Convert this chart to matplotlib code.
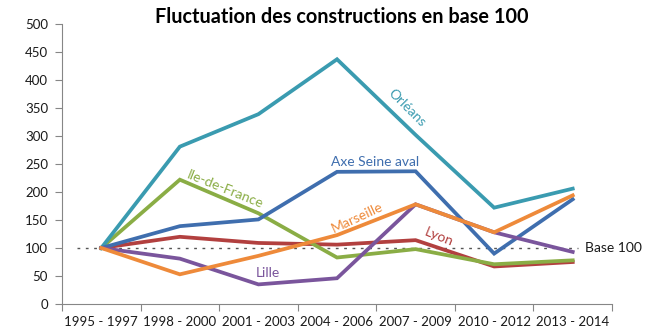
import matplotlib.pyplot as plt
import numpy as np

plt.rcParams["font.family"] = ["Lato", "DejaVu Sans"]

periods = ["1995 - 1997", "1998 - 2000", "2001 - 2003", "2004 - 2006",
           "2007 - 2009", "2010 - 2012", "2013 - 2014"]

ile_de_france = [100, 222, 162, 83, 98, 71, 78]
lyon = [100, 120, 109, 106, 114, 67, 75]
orleans = [100, 281, 339, 437, 302, 172, 206]
axe_seine_aval = [100, 139, 151, 236, 237, 90, 187]
lille = [100, 81, 35, 46, 178, 128, 93]
marseille = [100, 53, 86, 123, 178, 128, 194]

base_value = 100

series = [
    (lyon, "#B2403F"),
    (ile_de_france, "#8AAD45"),
    (orleans, "#3A9BB0"),
    (axe_seine_aval, "#3F6EAE"),
    (lille, "#7A559C"),
    (marseille, "#EE8A3A"),
]

fig = plt.figure(figsize=(6.47, 3.32), dpi=100)
ax = fig.add_axes([62 / 647, 28 / 332, 550 / 647, 280 / 332])

x = np.arange(len(periods))
ax.plot([-0.31, 6.07], [base_value, base_value], color="#555555",
        lw=1.0, linestyle=(0, (2, 4)), zorder=1)
for values, color in series:
    ax.plot(x, values, color=color, lw=2.7, solid_joinstyle="miter", zorder=2)

ax.set_xlim(-0.5, len(periods) - 0.5)
ax.set_ylim(0, 500)
ax.set_yticks(range(0, 501, 50))
ax.set_xticks(np.arange(-0.5, len(periods)), labels=[""] * (len(periods) + 1))
ax.set_xticks(x, labels=periods, minor=True)
ax.tick_params(axis="x", which="major", length=5, color="#868686", direction="out")
ax.tick_params(axis="x", which="minor", length=0, pad=9, labelsize=9.5, labelcolor="#1a1a1a")
ax.tick_params(axis="y", length=5, color="#868686", labelsize=9.5, labelcolor="#1a1a1a", pad=5)
for side in ("top", "right"):
    ax.spines[side].set_visible(False)
for side in ("left", "bottom"):
    ax.spines[side].set_color("#868686")

label_size = 10
ax.text(3.89, 350, "Orléans", color="#3A9BB0", fontsize=label_size, rotation=-45,
        ha="center", va="center")
ax.text(3.49, 254, "Axe Seine aval", color="#3F6EAE", fontsize=label_size,
        ha="center", va="center")
ax.text(1.58, 205, "Ile-de-France", color="#8AAD45", fontsize=label_size, rotation=-22,
        ha="center", va="center")
ax.text(3.26, 154, "Marseille", color="#EE8A3A", fontsize=label_size, rotation=25,
        ha="center", va="center")
ax.text(4.29, 120, "Lyon", color="#B2403F", fontsize=label_size, rotation=-22,
        ha="center", va="center")
ax.text(2.12, 55, "Lille", color="#7A559C", fontsize=label_size, ha="center", va="center")
ax.text(6.16, base_value, "Base 100", color="#1a1a1a", fontsize=label_size,
        ha="left", va="center")

fig.text(342 / 647, 1 - 17 / 332, "Fluctuation des constructions en base 100",
         fontsize=14.3, fontweight="bold", ha="center", va="center")

fig.savefig("out.png", dpi=100)
